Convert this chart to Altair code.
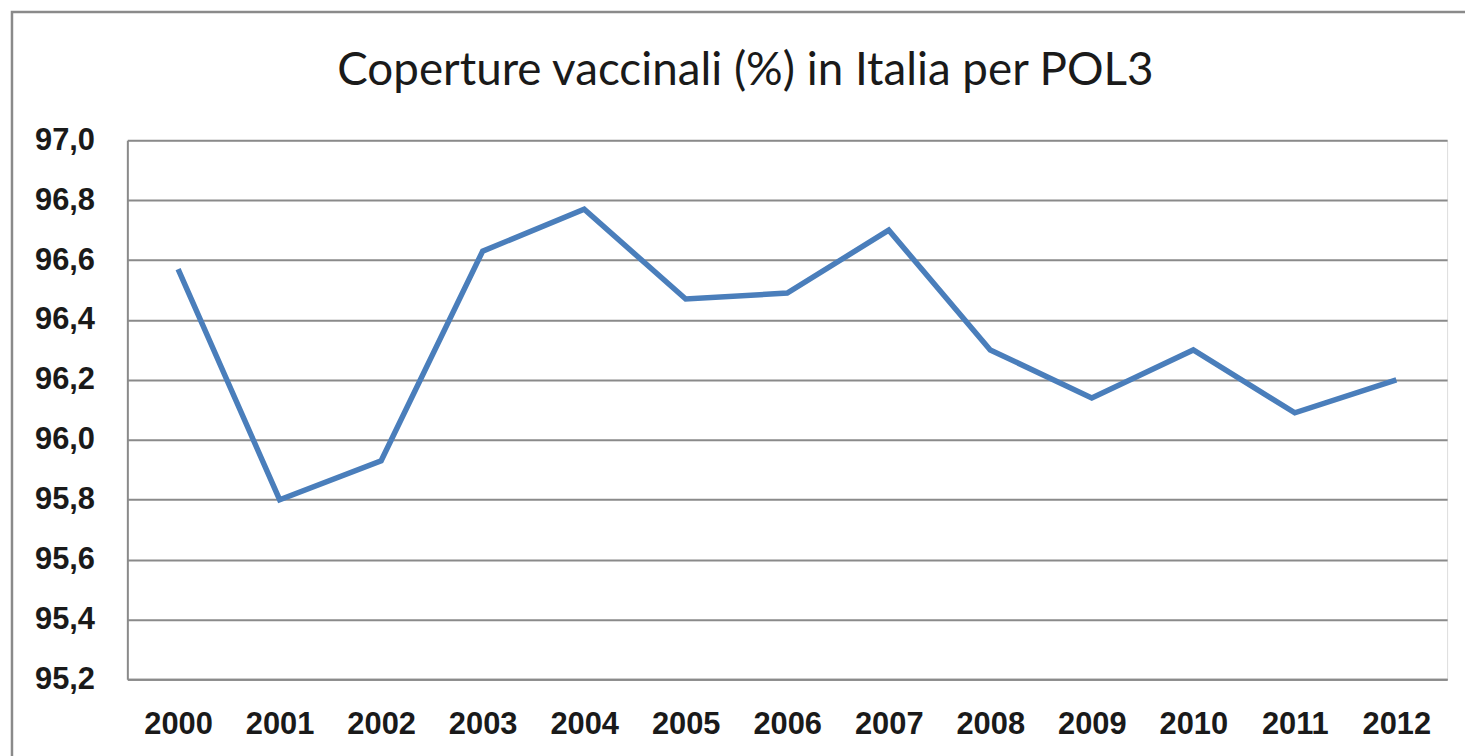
import altair as alt
import pandas as pd

years = ["2000", "2001", "2002", "2003", "2004", "2005", "2006",
         "2007", "2008", "2009", "2010", "2011", "2012"]
coverage = [96.57, 95.80, 95.93, 96.63, 96.77, 96.47, 96.49,
            96.70, 96.30, 96.14, 96.30, 96.09, 96.20]
y_ticks = [95.2, 95.4, 95.6, 95.8, 96.0, 96.2, 96.4, 96.6, 96.8, 97.0]
title_text = "Coperture vaccinali (%) in Italia per POL3"

df = pd.DataFrame({"anno": years, "copertura": coverage})

W, H = 1327, 542

line = alt.Chart(df).mark_line(color="#4a7ebb", strokeWidth=5.5).encode(
    x=alt.X("anno:N", sort=years,
            scale=alt.Scale(type="point", padding=0.5),
            axis=alt.Axis(title=None, labelAngle=0, ticks=False, grid=False,
                          domain=True, domainColor="#8a8a8a", domainWidth=2,
                          labelFont="Liberation Sans", labelFontWeight="bold",
                          labelFontSize=31, labelColor="#1a1a1a",
                          labelPadding=30)),
    y=alt.Y("copertura:Q",
            scale=alt.Scale(domain=[95.2, 97.0], nice=False, zero=False),
            axis=alt.Axis(title=None, values=y_ticks, ticks=False,
                          grid=True, gridColor="#8a8a8a", gridWidth=2,
                          domain=True, domainColor="#8a8a8a", domainWidth=2,
                          labelExpr="replace(format(datum.value, '.1f'), '.', ',')",
                          labelFont="Liberation Sans", labelFontWeight="bold",
                          labelFontSize=31, labelColor="#1a1a1a",
                          labelPadding=33)),
)

frame = alt.Chart(pd.DataFrame({"f": [0]})).mark_rect(
    fillOpacity=0, stroke="#8a8a8a", strokeWidth=2.5
).encode(
    x=alt.value(-116), x2=alt.value(W + 60),
    y=alt.value(-129), y2=alt.value(H + 120),
)

chart = alt.layer(frame, line).properties(
    width=W, height=H,
    title=alt.TitleParams(title_text, font="Lato",
                          fontSize=46, fontWeight="normal", color="#1a1a1a",
                          anchor="middle", frame="group", dx=-42,
                          offset=-85),
    autosize=alt.AutoSizeParams(type="none"),
    padding={"left": 120, "top": 131, "right": 18, "bottom": 75},
).configure_view(stroke=None).configure(background="white")

chart.save("out.html", embed_options={"renderer": "svg", "actions": False})
